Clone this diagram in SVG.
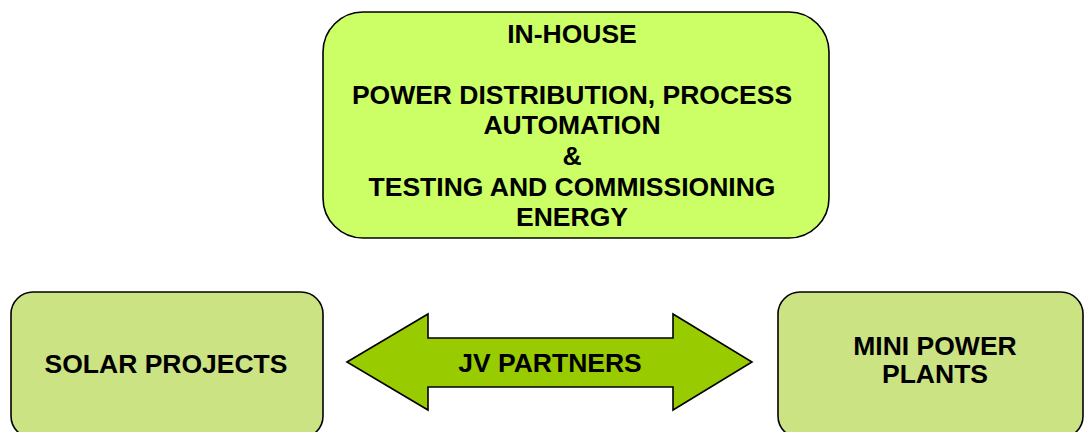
<svg xmlns="http://www.w3.org/2000/svg" width="1085" height="432" viewBox="0 0 1085 432">
<style>
.t{font-family:"Liberation Sans",Arial,sans-serif;font-weight:bold;font-size:26.5px;fill:#000;text-anchor:middle}
.b{stroke:#000;stroke-width:1.6}
</style>
<rect width="1085" height="432" fill="#fff"/>
<g id="inhouse">
<rect class="b" x="323" y="12" width="506" height="226" rx="40" ry="40" fill="#CCFF66"/>
<text class="t" x="572" y="43">IN-HOUSE</text>
<text class="t" x="572" y="104">POWER DISTRIBUTION, PROCESS</text>
<text class="t" x="572" y="134">AUTOMATION</text>
<text class="t" x="572" y="165">&amp;</text>
<text class="t" x="572" y="196">TESTING AND COMMISSIONING</text>
<text class="t" x="572" y="226">ENERGY</text>
</g>
<g id="solar">
<rect class="b" x="11" y="292" width="312" height="146" rx="22" ry="22" fill="#CCE384"/>
<text class="t" x="166" y="373">SOLAR PROJECTS</text>
</g>
<g id="mini">
<rect class="b" x="778" y="292" width="305" height="146" rx="22" ry="22" fill="#CCE384"/>
<text class="t" x="935" y="355">MINI POWER</text>
<text class="t" x="935" y="383">PLANTS</text>
</g>
<g id="connectors">
<path class="b" d="M347,362 L428,314 L428,338 L673,338 L673,314 L752,362 L673,410 L673,387 L428,387 L428,410 Z" fill="#99CC00"/>
<text class="t" x="550" y="372">JV PARTNERS</text>
</g>
</svg>
